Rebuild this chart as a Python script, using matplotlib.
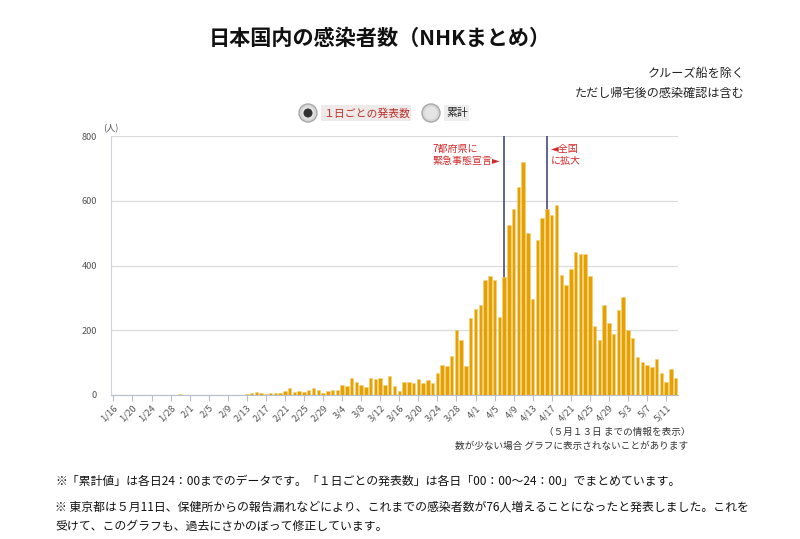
import matplotlib
matplotlib.use("Agg")
import matplotlib.pyplot as plt
from matplotlib.patches import Circle, FancyBboxPatch
import numpy as np
import datetime as dt

plt.rcParams['font.family'] = ['Noto Sans CJK JP', 'DejaVu Sans']

# ---- data ----
start = dt.date(2020, 1, 16)
daily_cases = [
    0, 0, 0, 0, 0, 0, 0, 0, 0, 0, 0, 0, 0, 0,      # 1/16-1/29
    4,                                             # 1/30
    0, 0, 0, 0, 0, 0, 0, 0, 0, 0, 0, 0, 0,         # 1/31-2/12
    3, 5, 9, 5, 4, 5, 7, 7, 11, 23, 10, 11, 9, 15, 22, 15, 6,   # 2/13-2/29
    11, 15, 15, 31, 29, 52, 41, 30, 24, 54, 50, 52, 31, 58, 27, 13,  # 3/1-3/16
    41, 39, 36, 49, 36, 45, 36, 69, 92, 90, 121, 200, 169, 90, 239,  # 3/17-3/31
    265, 277, 354, 367, 354, 241, 363, 525, 576, 644, 720, 501, 298, 478, 546,  # 4/1-4/15
    574, 556, 586, 371, 340, 390, 443, 435, 437, 369, 212, 171, 278, 222, 187,  # 4/16-4/30
    264, 302, 200, 176, 117, 103, 93, 87, 112, 67, 41, 80, 54,   # 5/1-5/13
]
dates = [start + dt.timedelta(days=i) for i in range(len(daily_cases))]
date_labels = [f"{d.month}/{d.day}" for d in dates]
tick_every = 4
y_ticks = [0, 200, 400, 600, 800]
events = [("7都府県に\n緊急事態宣言►", dt.date(2020, 4, 7), 'left'),
          ("◄全国\nに拡大", dt.date(2020, 4, 16), 'right')]

title = "日本国内の感染者数（NHKまとめ）"
note_tr = ["クルーズ船を除く", "ただし帰宅後の感染確認は含む"]
radio_labels = ["１日ごとの発表数", "累計"]
note_br = ["（５月１３日 までの情報を表示）", "数が少ない場合 グラフに表示されないことがあります"]
footnotes = [
    "※「累計値」は各日24：00までのデータです。「１日ごとの発表数」は各日「00：00〜24：00」でまとめています。",
    "※ 東京都は５月11日、保健所からの報告漏れなどにより、これまでの感染者数が76人増えることになったと発表しました。これを",
    "受けて、このグラフも、過去にさかのぼって修正しています。",
]

# ---- figure ----
W, H = 800, 539
fig = plt.figure(figsize=(W / 100, H / 100), dpi=100)
fig.patch.set_facecolor('white')

def fx(px):
    return px / W

def fy(py):
    return 1 - py / H

ax_l, ax_r, ax_t, ax_b = 111, 678, 136, 395
ax = fig.add_axes([fx(ax_l), fy(ax_b), (ax_r - ax_l) / W, (ax_b - ax_t) / H])

x = np.arange(len(daily_cases))
ax.bar(x, daily_cases, width=0.74, color='#E6A000', edgecolor='#F3CF7A',
       linewidth=0.4, zorder=3)

for label, d, side in events:
    idx = (d - start).days
    ax.axvline(idx, color='#3b3b6b', lw=1.1, zorder=2)
    if side == 'left':
        ax.text(idx - 0.8, 775, label, ha='right', va='top', color='#d22a2a',
                fontsize=7.2, linespacing=1.2, multialignment='left', zorder=4)
    else:
        ax.text(idx + 0.8, 775, label, ha='left', va='top', color='#d22a2a',
                fontsize=7.2, linespacing=1.2, multialignment='left', zorder=4)

ax.set_xlim(-0.5, len(daily_cases) - 0.5)
ax.set_ylim(0, 800)
ax.set_yticks(y_ticks)
ax.set_yticklabels([str(v) for v in y_ticks])
ax.grid(axis='y', color='#dcdcdc', lw=0.9, zorder=0)
ax.set_axisbelow(True)
ticks = list(range(0, len(daily_cases), tick_every))
ax.set_xticks(ticks)
ax.set_xticklabels([date_labels[i] for i in ticks], rotation=45, ha='right',
                   rotation_mode='anchor', fontsize=6.8, color='#555555')
ax.tick_params(axis='x', length=4, color='#b8bdd0', pad=2)
ax.tick_params(axis='y', length=0, pad=10, labelsize=6.6, labelcolor='#555555')
for s in ['top', 'right']:
    ax.spines[s].set_visible(False)
ax.spines['left'].set_color('#d0d4e4')
ax.spines['bottom'].set_color('#b8bdd0')

# ---- overlay for texts ----
ov = fig.add_axes([0, 0, 1, 1])
ov.set_xlim(0, W)
ov.set_ylim(H, 0)
ov.axis('off')
ov.patch.set_alpha(0)

ov.text(380, 38, title, ha='center', va='center', fontsize=15.2,
        fontweight='bold', color='#111111')
ov.text(745, 73, note_tr[0], ha='right', va='center', fontsize=8.7, color='#222222')
ov.text(745, 93, note_tr[1], ha='right', va='center', fontsize=8.7, color='#222222')

# radio buttons
for cx, checked in [(308, True), (431, False)]:
    ov.add_patch(Circle((cx, 113), 9, facecolor='#d6d6d6', edgecolor='#a8a8a8', lw=1))
    ov.add_patch(Circle((cx, 113), 6.5, facecolor='#e4e4e4', edgecolor='none'))
    if checked:
        ov.add_patch(Circle((cx, 113), 4.5, facecolor='#333333', edgecolor='none'))
ov.add_patch(FancyBboxPatch((321, 105), 90, 16, boxstyle='square,pad=0',
                            facecolor='#efeaea', edgecolor='none'))
ov.add_patch(FancyBboxPatch((444, 105), 25, 16, boxstyle='square,pad=0',
                            facecolor='#eeeeee', edgecolor='none'))
ov.text(323, 113, radio_labels[0], ha='left', va='center', fontsize=7.8, color='#b8302a')
ov.text(446, 113, radio_labels[1], ha='left', va='center', fontsize=7.8, color='#222222')

ov.text(103, 129, "(人)", ha='left', va='center', fontsize=6.6, color='#555555')

ov.text(690, 432, note_br[0], ha='right', va='center', fontsize=6.9, color='#333333')
ov.text(688, 446, note_br[1], ha='right', va='center', fontsize=6.9, color='#333333')

ov.text(55, 481, footnotes[0], ha='left', va='center', fontsize=8.55, color='#111111')
ov.text(55, 507, footnotes[1], ha='left', va='center', fontsize=8.55, color='#111111')
ov.text(55, 526, footnotes[2], ha='left', va='center', fontsize=8.55, color='#111111')

fig.savefig('out.png', dpi=100, facecolor='white')
